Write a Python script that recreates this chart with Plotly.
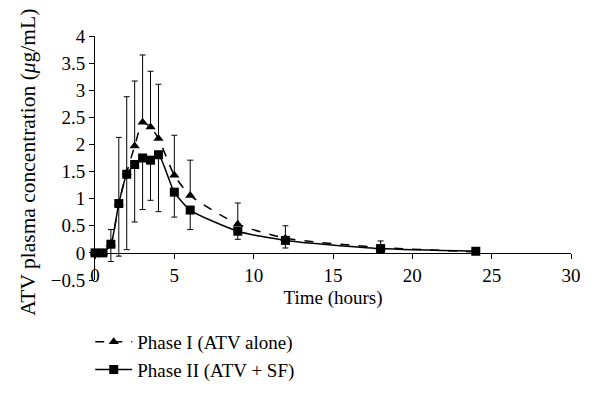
import plotly.graph_objects as go

time_h = [0, 0.5, 1, 1.5, 2, 2.5, 3, 3.5, 4, 5, 6, 9, 12, 18, 24]
phase1 = [0, 0, 0.16, 0.91, 1.48, 1.97, 2.41, 2.32, 2.11, 1.43, 1.06, 0.53, 0.27, 0.10, 0.02]
phase2 = [0, 0, 0.16, 0.91, 1.45, 1.63, 1.75, 1.71, 1.81, 1.12, 0.79, 0.40, 0.23, 0.08, 0.03]
# error bar extents
bar_top = [0, 0, 0.43, 2.13, 2.88, 3.17, 3.65, 3.35, 3.11, 2.17, 1.71, 0.92, 0.50, 0.22, 0.05]
bar_bottom = [0, 0, -0.16, -0.06, 0.06, 0.57, 0.80, 0.97, 0.76, 0.66, 0.43, 0.25, 0.09, 0.05, 0.0]

x_ticks = [0, 5, 10, 15, 20, 25, 30]
y_ticks = [-0.5, 0, 0.5, 1, 1.5, 2, 2.5, 3, 3.5, 4]
y_tick_text = ["\u22120.5", "0", "0.5", "1", "1.5", "2", "2.5", "3", "3.5", "4"]
y_title = "ATV plasma concentration (<i>μ</i>g/mL)"

err_plus = [max(t - v, 0) for t, v in zip(bar_top, phase1)]
err_minus = [max(v - b, 0) for b, v in zip(bar_bottom, phase2)]

FONT = "Liberation Serif"
FS = 19

fig = go.Figure()
fig.add_trace(go.Scatter(
    x=time_h, y=phase1, name="Phase I (ATV alone)",
    mode="lines+markers", line=dict(color="black", width=1.5, dash="dash", shape="spline", smoothing=0.6),
    marker=dict(symbol="triangle-up", size=9, color="black"),
    error_y=dict(type="data", symmetric=False, array=err_plus, arrayminus=[0]*len(time_h),
                 color="black", thickness=1, width=3),
    cliponaxis=False,
))
fig.add_trace(go.Scatter(
    x=time_h, y=phase2, name="Phase II (ATV + SF)",
    mode="lines+markers", line=dict(color="black", width=1.5, shape="spline", smoothing=0.6),
    marker=dict(symbol="square", size=9, color="black"),
    error_y=dict(type="data", symmetric=False, array=[0]*len(time_h), arrayminus=err_minus,
                 color="black", thickness=1, width=3),
    cliponaxis=False,
))

# page body has an 8px margin, so the figure is sized/margined to compensate
fig.update_layout(
    width=592, height=393,
    paper_bgcolor="white", plot_bgcolor="white",
    margin=dict(l=87, r=29, t=28, b=121),
    font=dict(family=FONT, size=FS, color="black"),
    showlegend=True,
    legend=dict(x=-0.01, xanchor="left", y=-0.176, yanchor="top", bgcolor="rgba(0,0,0,0)",
                font=dict(family=FONT, size=FS), tracegroupgap=0, itemwidth=37),
    xaxis=dict(range=[0, 30], tickvals=x_ticks, ticks="outside", ticklen=5, tickcolor="black",
               showline=True, linecolor="black", linewidth=1, showgrid=False, zeroline=False,
               anchor="free", position=0.5/4.5, automargin=False,
               tickfont=dict(family=FONT, size=FS),
               title=dict(text="Time (hours)", font=dict(family=FONT, size=FS), standoff=6)),
    yaxis=dict(range=[-0.5, 4], tickvals=y_ticks, ticktext=y_tick_text,
               ticks="outside", ticklen=5, tickcolor="black", automargin=False,
               showline=True, linecolor="black", linewidth=1, showgrid=False, zeroline=False,
               tickfont=dict(family=FONT, size=FS)),
    annotations=[dict(text=y_title, xref="paper", yref="paper", x=-0.141, y=0.484,
                      xanchor="center", yanchor="middle", textangle=-90, showarrow=False,
                      font=dict(family=FONT, size=21.5, color="black"))],
)

fig.write_html("out.html")
